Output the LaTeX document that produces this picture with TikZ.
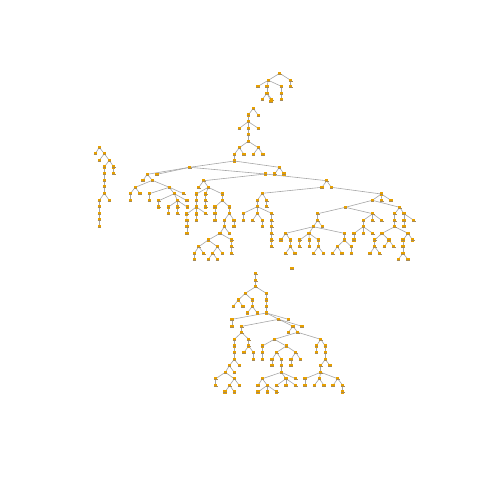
\documentclass[tikz,border=0pt]{standalone}
\usetikzlibrary{backgrounds}
\def\treelist{1/279.7/73.3/0,2/268.3/80.3/1,3/290.7/80.3/1,4/258/86.3/2,5/267/86.3/2,6/281.3/86.3/2,7/290.7/86.3/3,8/267/93.3/5,9/281.3/93.3/6,10/262.3/99.3/8,11/271.7/99.3/8,12/271/101.3/8,13/281.3/99.7/9,
14/253.3/108.3/0,15/248.3/115/14,16/258.3/115.3/14,17/248.3/121.7/15,18/239.3/128.3/17,19/248.3/128.3/17,20/258.3/128.3/17,21/248.3/134.7/19,22/248.3/141.3/21,23/239.3/147.7/22,24/258.3/147.7/22,25/234.3/154.3/23,26/244/154.3/23,27/253.3/154.3/24,28/263/154.3/24,29/234.3/161/25,30/189.7/167.3/29,31/279.3/167.3/29,32/147.3/174.3/30,33/157/174.3/30,34/265.3/174/30,35/274.7/174/31,36/284/174/31,37/143/180.3/32,38/152.3/180.3/32,39/135.3/187.3/38,40/169.3/187.3/38,41/130.3/193.7/39,42/140/193.7/39,43/130.3/200.7/41,44/149.3/193.7/40,45/174.3/193.7/40,46/183.7/193.7/40,47/149.3/200.7/44,48/158.7/200.7/45,49/177.7/200.7/45,50/187/200.7/45,51/158.7/207/48,52/168.3/207/49,53/177.7/207/49,54/187.3/207/49,55/168.3/213.7/52,56/177.7/213.7/53,
57/203.7/180.7/34,58/198.7/187.3/57,59/208.3/187.3/57,60/196.3/194/59,61/205.7/194/59,62/222.3/194/59,63/196.3/200.3/60,64/196.3/207/63,65/186.7/214/64,66/196.3/214/64,67/205.7/213.3/64,68/187/220.3/65,69/187/226.7/68,70/187/233.3/69,71/196.3/220.3/66,72/205.7/200.3/61,73/205.7/207/72,74/222.3/200.3/62,75/215/207/74,76/229.3/207/74,77/215/213.3/75,78/215/220.3/77,79/229.3/213.3/76,80/224.3/220.3/79,81/234/220.3/79,82/224.3/226.7/80,83/234/226.7/81,84/220/233.3/82,85/229.3/233.3/82,86/208.3/240/84,87/231.7/240/84,88/198.7/246.7/86,89/217.3/246.7/86,90/194.3/253.3/88,91/203.7/253.3/88,92/194.3/259.3/90,93/212.7/253.3/89,94/222.3/253.3/89,95/208.3/259.3/93,96/217.3/259.3/93,97/231.7/246.7/87,98/231.7/253.3/97,
99/326.7/180.7/34,100/322/187.3/99,101/331.3/187.3/99,102/262.3/193.3/100,103/257.3/200.3/102,104/266.7/200.3/102,105/257.3/206.7/103,106/266.7/206.7/104,107/243.3/213.3/105,108/257.3/213.3/105,109/271.7/213.3/105,110/243.3/220.3/107,111/252.7/220.3/108,112/262.3/220.3/108,113/262.3/226.7/112,114/271.7/220.3/109,115/271.7/226.7/114,116/271.7/233.3/115,117/271.7/240/116,118/271.7/246.7/117,
119/381.3/194/101,120/372.3/200.3/119,121/381.7/200.3/119,122/391/200.3/119,123/345.3/207.3/120,124/399.7/207.3/120,125/317.7/213.7/123,126/372.7/213.7/123,127/317.7/220.3/125,128/313.3/226.7/127,129/322.3/226.7/127,130/285.7/233.3/128,131/309/233.3/128,132/344.3/233.3/128,133/281/240/130,134/290.3/240/130,135/290.3/246.7/134,136/285.7/253.3/135,137/295/253.3/135,138/299.7/240/131,139/309.3/240/131,140/318.3/240/131,141/299.7/246.7/138,142/309.3/246.7/139,143/318.3/246.7/140,144/313.7/253.3/143,145/323.3/253.3/143,146/344.3/240/132,147/337.3/246.7/146,148/351.3/246.7/146,149/332.7/253.3/147,150/342/253.3/147,151/351.3/253.3/148,152/363.3/220.3/126,153/372.7/220.3/126,154/381.7/220.3/126,155/363.3/226.7/152,156/354/233.3/155,157/363.3/233.3/155,158/372.7/233.3/155,159/354/240/156,160/394.7/213.7/124,161/404/213.7/124,162/394.7/220.3/160,163/394.7/226.7/162,164/382/233.3/163,165/408/233.3/163,166/404/220.3/161,167/413.7/220.3/161,168/404/226.7/166,169/374.7/240/164,170/389/240/164,171/374.7/246.7/169,172/370/253.3/171,173/379.7/253.3/171,174/384.3/246.7/170,175/393.7/246.7/170,176/403/240/165,177/412.7/240/165,178/403/246.7/176,179/403/253.3/178,180/398.3/259.3/179,181/408/259.3/179,182/292/268.3/0,
183/99.3/147.3/0,184/95.3/153.7/183,185/104.3/153.7/183,186/99.3/160.3/185,187/109.3/160.3/185,188/104.3/167/187,189/113.7/167/187,190/113.7/173.3/189,191/104.3/173.3/188,192/104.3/180.3/191,193/104.3/186.7/192,194/104.3/193.3/193,195/99.3/200.3/194,196/109.3/200.3/194,197/99.3/206.7/195,198/99.3/213.3/197,199/99.3/219.7/198,200/99.3/226.3/199,
201/255.7/273.3/0,202/255.7/280.3/201,203/255.7/286.7/202,204/245.3/293.3/203,205/266.3/293.3/203,206/238.3/300/204,207/252.3/300/204,208/233.3/306.3/206,209/243/306.3/206,210/252.3/306.3/207,211/247.3/313/210,212/257.3/313/210,213/266.3/300/205,214/266.3/306.3/213,215/266.3/313/214,216/232/319.3/215,217/278.7/319.3/215,218/288.3/319.3/215,219/241.7/326.3/217,220/293/326.3/217,221/302/326.3/217,222/232/326.3/216,223/241.7/332.5/219,224/288.3/332.3/220,225/297.7/332.3/220,226/234.3/339.3/223,227/248.7/339.3/223,228/234.3/346/226,229/234.3/352.3/228,230/234.3/359.3/229,231/229.3/365.7/230,232/239.3/365.7/230,233/225.3/372.3/231,234/234.3/372.3/231,235/215.7/378.7/233,236/234.3/378.7/233,237/215.7/385.3/235,238/229.7/385.3/236,239/239.3/385.3/236,240/225/392/238,241/234.3/392/238,242/248.7/346/227,243/244/352.3/242,244/253.3/352.3/242,245/253.3/359.3/244,246/274.3/339.3/225,247/320.7/339.3/225,248/262.3/346/246,249/286.3/346/246,250/262.3/352.3/248,251/262.3/359.3/250,252/276.7/352.3/249,253/295.7/352.3/249,254/272/359.3/252,255/281.3/359.3/252,256/272/365.7/254,257/281.3/365.7/255,258/281.3/372.3/257,259/262.3/378.7/258,260/286/378.7/258,261/295.7/378.7/258,262/258/385.3/259,263/267.3/385.3/259,264/258/392/263,265/267.3/392/263,266/276.7/392/263,267/276.7/385.3/260,268/286/385.3/260,269/295.7/385.3/260,270/291/359.3/253,271/300.3/359.3/253,272/291/365.7/270,273/316.3/346/247,274/325.3/346/247,275/316.3/352.3/273,276/325.3/352.3/274,277/325.3/359.3/276,278/320.7/365.7/277,279/330/365.7/277,280/320.7/372.3/278,281/305/378.7/280,282/319.3/378.7/280,283/337.7/378.7/280,284/305/385.3/281,285/314.3/385.3/282,286/324/385.3/282,287/333/385.3/283,288/342.7/385.3/283,289/342.7/392/288}
\definecolor{nodeorange}{HTML}{E69F00}
\definecolor{nodetick}{HTML}{A58A5A}
\definecolor{linkgrey}{HTML}{A6A6A6}
\tikzset{
  treenode/.style={rectangle,fill=nodeorange,draw=none,inner sep=0pt,minimum width=3.2pt,minimum height=3.2pt},
  treelink/.style={draw=linkgrey,line width=0.6pt},
  treetick/.style={draw=nodetick,line width=0.35pt}
}
\begin{document}
\begin{tikzpicture}[x=1pt,y=-1pt]
\useasboundingbox (0,0) rectangle (480,480);
\foreach \i/\x/\y/\p in \treelist {
  \node[treenode] (n\i) at (\x,\y) {};
  \draw[treetick] ([shift={(-1.8pt,-0.4pt)}]n\i.center) -- ([shift={(1.8pt,-0.4pt)}]n\i.center);
}
\begin{pgfonlayer}{background}
\foreach \i/\x/\y/\p in \treelist {
  \ifnum\p>0 \draw[treelink] (n\p.center) -- (n\i.center); \fi
}
\end{pgfonlayer}
\end{tikzpicture}
\end{document}
